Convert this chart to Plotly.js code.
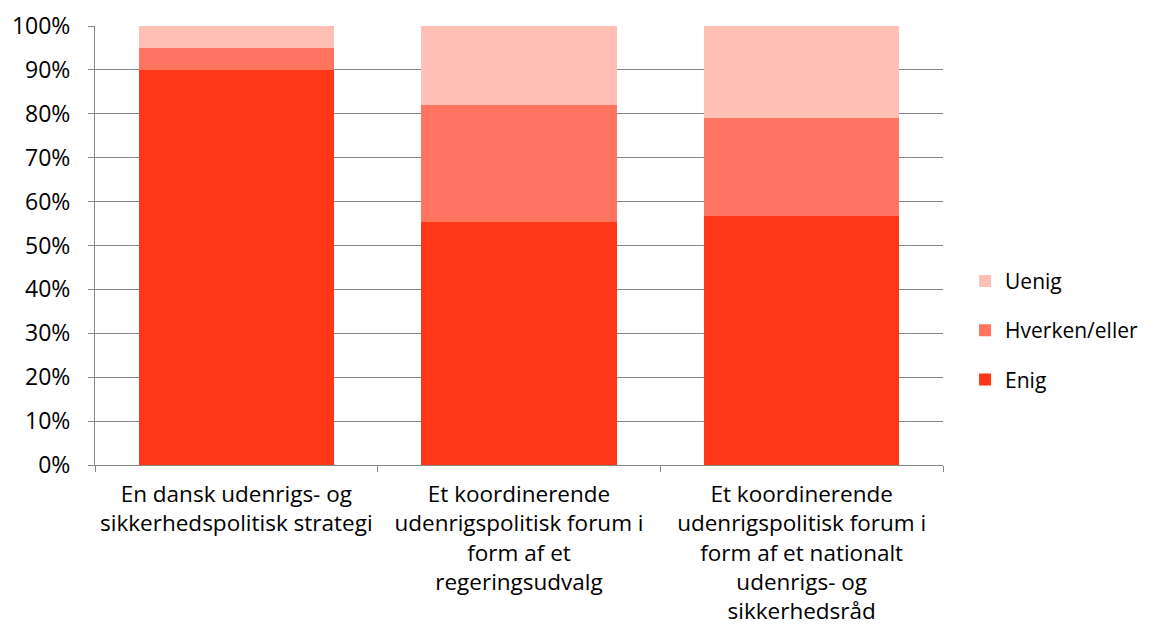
<!DOCTYPE html>
<html>
<head>
<meta charset="utf-8">
<script src="https://cdn.plot.ly/plotly-3.0.1.min.js"></script>
<style>html,body{margin:0;padding:0;background:#fff}#chart{width:1162px;height:639px}</style>
</head>
<body>
<div id="chart"></div>
<script>
const categories = [
  "En dansk udenrigs- og<br>sikkerhedspolitisk strategi",
  "Et koordinerende<br>udenrigspolitisk forum i<br>form af et<br>regeringsudvalg",
  "Et koordinerende<br>udenrigspolitisk forum i<br>form af et nationalt<br>udenrigs- og<br>sikkerhedsråd"
];
const enig = [0.90, 0.554, 0.568];
const hverken = [0.05, 0.267, 0.222];
const uenig = [0.05, 0.179, 0.210];
const yTickVals = [0,0.1,0.2,0.3,0.4,0.5,0.6,0.7,0.8,0.9,1.0];
const yTickText = ["0%","10%","20%","30%","40%","50%","60%","70%","80%","90%","100%"];

const mk = (name, y, color, rank) => ({
  type: 'bar', name: name, x: categories, y: y, legendgroup: name, legendrank: rank,
  marker: {color: color, line: {width: 0}}, hoverinfo: 'skip'
});
const data = [
  mk('Enig', enig, '#FF3618', 3),
  mk('Hverken/eller', hverken, '#FF745E', 2),
  mk('Uenig', uenig, '#FFBFB5', 1)
];
const layout = {
  width: 1162, height: 639,
  margin: {l: 95, r: 219, t: 26, b: 174},
  barmode: 'stack', bargap: 0.31,
  paper_bgcolor: '#fff', plot_bgcolor: '#fff',
  font: {family: '"Open Sans", sans-serif', size: 22, color: '#000'},
  xaxis: {
    showline: true, linecolor: '#868686', linewidth: 1,
    ticks: 'outside', tickson: 'boundaries', ticklen: 6, tickcolor: '#868686',
    showgrid: false, tickfont: {size: 22.5}, tickangle: 0,
    automargin: false, ticklabelstandoff: 9
  },
  yaxis: {
    range: [0, 1], tickvals: yTickVals, ticktext: yTickText,
    showline: true, linecolor: '#868686', linewidth: 1,
    ticks: 'outside', ticklen: 6, tickcolor: '#868686',
    showgrid: true, gridcolor: '#868686', gridwidth: 1,
    zeroline: false, tickfont: {size: 23}, automargin: false, ticklabelstandoff: 13
  },
  legend: {
    x: 1.026, xanchor: 'left', y: 0.307, yanchor: 'middle',
    traceorder: 'grouped', tracegroupgap: 19,
    font: {size: 21}, itemwidth: 30
  },
  showlegend: true
};
Plotly.newPlot('chart', data, layout, {displayModeBar: false, staticPlot: true});
</script>
</body>
</html>
